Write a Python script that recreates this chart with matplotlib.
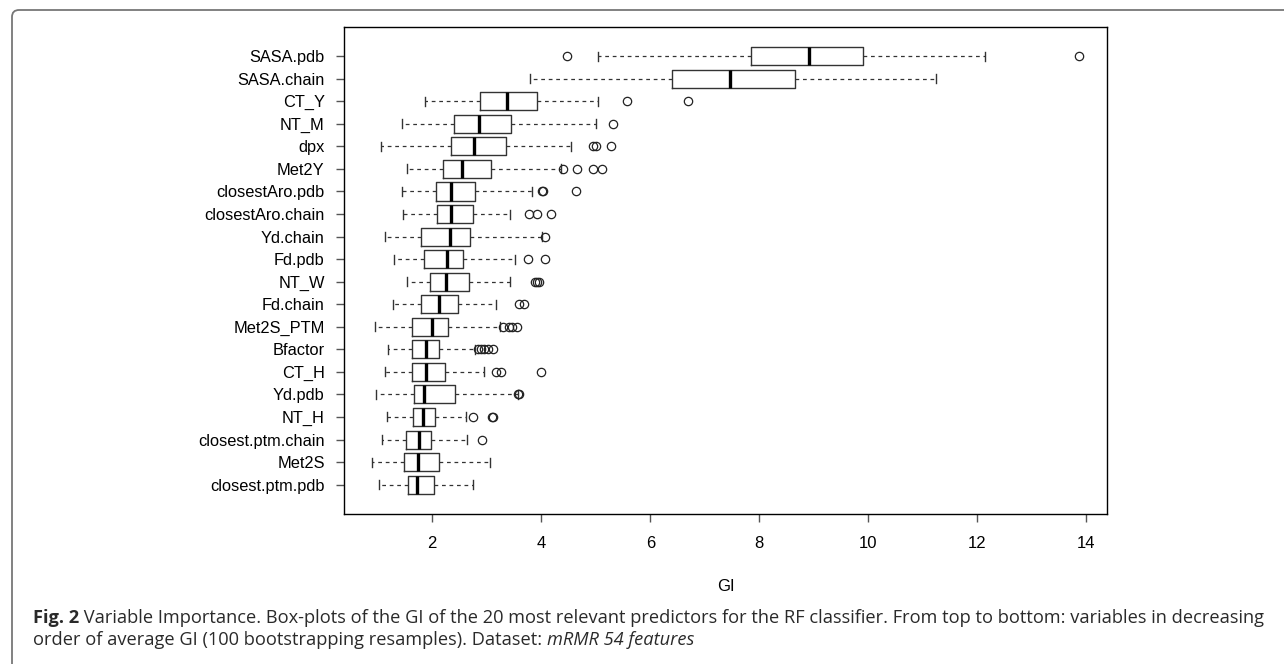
import matplotlib
matplotlib.use("Agg")
import matplotlib.pyplot as plt
from matplotlib.patches import FancyBboxPatch

# Gini importance (GI) summaries of the 20 top predictors, top to bottom
features = ["SASA.pdb", "SASA.chain", "CT_Y", "NT_M", "dpx", "Met2Y",
            "closestAro.pdb", "closestAro.chain", "Yd.chain", "Fd.pdb",
            "NT_W", "Fd.chain", "Met2S_PTM", "Bfactor", "CT_H", "Yd.pdb",
            "NT_H", "closest.ptm.chain", "Met2S", "closest.ptm.pdb"]
whislo = [5.05, 3.79, 1.86, 1.44, 1.06, 1.54, 1.44, 1.47, 1.14, 1.30,
          1.54, 1.28, 0.95, 1.19, 1.14, 0.97, 1.17, 1.08, 0.90, 1.02]
q1 = [7.85, 6.40, 2.87, 2.40, 2.34, 2.20, 2.06, 2.09, 1.80, 1.85,
      1.96, 1.80, 1.63, 1.63, 1.63, 1.66, 1.65, 1.52, 1.48, 1.55]
med = [8.92, 7.46, 3.38, 2.86, 2.76, 2.55, 2.35, 2.35, 2.32, 2.27,
       2.25, 2.13, 1.99, 1.88, 1.88, 1.84, 1.83, 1.76, 1.74, 1.72]
q3 = [9.91, 8.66, 3.92, 3.44, 3.35, 3.08, 2.78, 2.74, 2.70, 2.57,
      2.68, 2.47, 2.28, 2.12, 2.23, 2.42, 2.05, 1.98, 2.13, 2.03]
whishi = [12.15, 11.25, 5.05, 5.00, 4.54, 4.37, 3.83, 3.43, 4.01, 3.51,
          3.42, 3.16, 3.25, 2.79, 2.95, 3.57, 2.61, 2.64, 3.06, 2.74]
fliers = [[4.47, 13.86], [], [5.57, 6.69], [5.31], [4.94, 5.01, 5.28],
          [4.40, 4.65, 4.95, 5.11], [4.01, 4.03, 4.64], [3.77, 3.92, 4.17],
          [4.06], [3.76, 4.07], [3.88, 3.92, 3.96], [3.60, 3.68],
          [3.29, 3.40, 3.46, 3.56], [2.84, 2.89, 2.95, 3.03, 3.11],
          [3.17, 3.26, 3.99], [3.57, 3.59], [2.75, 3.10, 3.12], [2.91],
          [], []]
xticks = [2, 4, 6, 8, 10, 12, 14]

plt.rcParams["font.family"] = ["Liberation Sans", "DejaVu Sans"]

fig = plt.figure(figsize=(12.84, 6.64), dpi=100)
ax = fig.add_axes([0.268, 0.226, 0.594, 0.7335])

n = len(features)
positions = list(range(n, 0, -1))
stats = []
for i in range(n):
    stats.append(dict(label=features[i], whislo=whislo[i], q1=q1[i],
                      med=med[i], q3=q3[i], whishi=whishi[i],
                      fliers=fliers[i]))

ax.bxp(stats, positions=positions, vert=False, widths=0.8,
       showfliers=True, capwidths=0.4,
       boxprops=dict(color="#333333", linewidth=1.0),
       medianprops=dict(color="black", linewidth=2.4, solid_capstyle="butt"),
       whiskerprops=dict(color="#333333", linewidth=0.9, linestyle=(0, (3, 3))),
       capprops=dict(color="#333333", linewidth=1.0),
       flierprops=dict(marker="o", markersize=6, markerfacecolor="none",
                       markeredgecolor="#222222", markeredgewidth=0.9))

# R-style 4% padding on both axes
lo = min(whislo + [f for fl in fliers for f in fl])
hi = max(whishi + [f for fl in fliers for f in fl])
pad = 0.04 * (hi - lo)
ax.set_xlim(lo - pad, hi + pad)
ax.set_ylim(0.5 - 0.04 * n, n + 0.5 + 0.04 * n)

ax.set_xticks(xticks)
ax.set_xticklabels([str(t) for t in xticks], fontsize=12)
ax.set_yticks(positions)
ax.set_yticklabels(features, fontsize=11.8)
ax.tick_params(axis="both", direction="out", length=6, width=1.0,
               color="#555555")
ax.tick_params(axis="y", pad=8)
ax.tick_params(axis="x", pad=10)
for sp in ax.spines.values():
    sp.set_linewidth(1.0)
    sp.set_color("black")
ax.set_xlabel("GI", fontsize=12, labelpad=20)

# rounded panel frame around the figure
frame = FancyBboxPatch((0.12, -1.0), 14.0, 7.54,
                       boxstyle="round,pad=0,rounding_size=0.07",
                       transform=fig.dpi_scale_trans, facecolor="none",
                       edgecolor="#777777", linewidth=1.3)
fig.add_artist(frame)

# caption with mixed bold / regular / italic pieces
cap_font = ["Open Sans", "DejaVu Sans"]
cap_size = 13.15
cap_color = "#2a2a2a"
t1 = fig.text(33 / 1284, 1 - 627 / 664, "Fig. 2", fontsize=cap_size,
              fontweight="bold", family=cap_font, color=cap_color, va="bottom")
ax.annotate(" Variable Importance. Box-plots of the GI of the 20 most relevant "
            "predictors for the RF classifier. From top to bottom: variables "
            "in decreasing", xy=(1, 0), xycoords=t1, fontsize=cap_size,
            family=cap_font, color=cap_color, va="bottom", ha="left",
            annotation_clip=False)
t3 = fig.text(33 / 1284, 1 - 649 / 664,
              "order of average GI (100 bootstrapping resamples). Dataset: ",
              fontsize=cap_size, family=cap_font, color=cap_color, va="bottom")
ax.annotate("mRMR 54 features", xy=(1, 0), xycoords=t3, fontsize=cap_size,
            family=cap_font, style="italic", color=cap_color, va="bottom",
            ha="left", annotation_clip=False)

fig.savefig("out.png", dpi=100)
